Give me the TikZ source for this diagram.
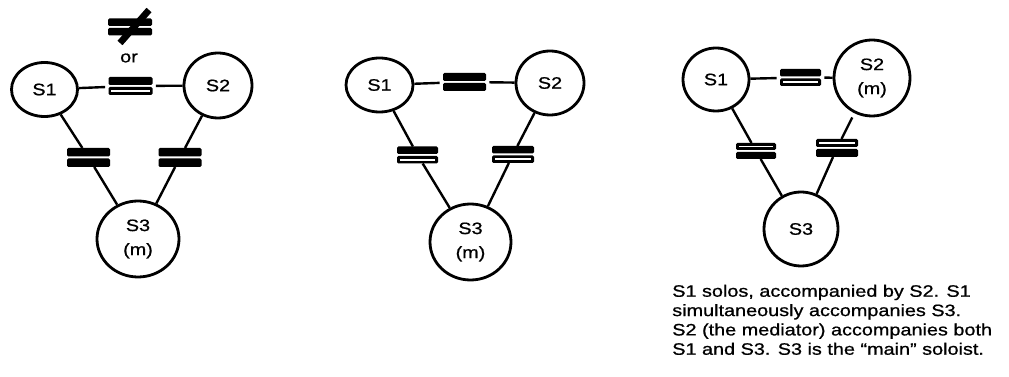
\documentclass[tikz,border=0pt]{standalone}
\usepackage{fontspec}
\setmainfont{Liberation Sans}[FakeStretch=1.2, FakeBold=0.8]
\usetikzlibrary{shapes.geometric}

% two stacked bars drawn inside a bar slot node: #1 node, #2 upper kind, #3 lower kind
\newcommand\barpair[3]{%
  \coordinate (#1-ul) at (#1.north west);
  \coordinate (#1-ur) at ([yshift=0.75pt]#1.east);
  \coordinate (#1-ll) at ([yshift=-0.75pt]#1.west);
  \coordinate (#1-lr) at (#1.south east);
  \csname bar#2\endcsname{#1-ul}{#1-ur}%
  \csname bar#3\endcsname{#1-ll}{#1-lr}}
\newcommand\barsolid[2]{\fill[ink] (#1) rectangle (#2);}
\newcommand\barhollow[2]{\fill[ink] (#1) rectangle (#2);
  \fill[white] ([shift={(2.6,2.6)}]#1) rectangle ([shift={(-2.6,-2.6)}]#2);}

\begin{document}
\begin{tikzpicture}[x=0.75pt,y=-0.75pt,
  txt/.style={font=\fontsize{12.4}{14.5}\selectfont},
  wh/.style 2 args={minimum width=#1*0.75pt, minimum height=#2*0.75pt},
  soloist/.style={draw, ellipse, line width=2.1pt, inner sep=0pt, align=center, txt},
  link/.style={line width=1.8pt},
  barslot/.style={rectangle, inner sep=0pt, outer sep=0pt},
  ink/.style={fill=black, rounded corners=1pt},
  caption/.style={txt, align=left, anchor=north west, inner sep=0pt}
]
\useasboundingbox (0,0) rectangle (1009,377);

% ---------- first triad: S3 is the main soloist ----------
\node[soloist, wh={66}{54}] (a1) at (44.5,89.5) {S1};
\node[soloist, wh={68}{65}] (b1) at (218,85.5) {S2};
\node[soloist, wh={82}{76}] (c1) at (138,239) {S3\\[3.5pt](m)};

\node[barslot, wh={44}{18}] (ab1) at (130.5,86) {};
\node[barslot, wh={43}{19}] (ac1) at (88.5,157.5) {};
\node[barslot, wh={43}{19}] (bc1) at (180,157.5) {};

\draw[link, shorten >=2.5pt] (a1) -- (ab1);
\draw[link, shorten <=2.5pt] (ab1) -- (b1);
\draw[link] (a1) -- (ac1) -- (c1);
\draw[link] (b1) -- (bc1) -- (c1);

\barpair{ab1}{solid}{hollow}
\barpair{ac1}{solid}{solid}
\barpair{bc1}{solid}{solid}

% alternative relation shown above the S1--S2 link
\node[barslot, wh={44}{17}] (ne) at (130,27) {};
\barpair{ne}{solid}{solid}
\draw[line width=5pt] ([shift={(19,-17)}]ne.center) -- ([shift={(-10,16)}]ne.center);
\node[txt, inner sep=0pt] (or) at (129,58) {or};

% ---------- second triad ----------
\node[soloist, wh={67}{54}] (a2) at (379.5,85) {S1};
\node[soloist, wh={68}{64}] (b2) at (550,83) {S2};
\node[soloist, wh={81}{76}] (c2) at (470.5,242) {S3\\[3.5pt](m)};

\node[barslot, wh={43}{18}] (ab2) at (464.5,82) {};
\node[barslot, wh={41}{17}] (ac2) at (417.5,155) {};
\node[barslot, wh={42}{17}] (bc2) at (513,154.5) {};

\draw[link, shorten >=2.5pt] (a2) -- (ab2);
\draw[link, shorten <=2.5pt] (ab2) -- (b2);
\draw[link] (a2) -- (ac2) -- (c2);
\draw[link] (b2) -- (bc2) -- (c2);

\barpair{ab2}{solid}{solid}
\barpair{ac2}{solid}{hollow}
\barpair{bc2}{solid}{hollow}

% ---------- third triad: S2 mediates ----------
\node[soloist, wh={66}{63}] (a3) at (716,79.5) {S1};
\node[soloist, wh={76}{76}] (b3) at (872,78) {S2\\[3.5pt](m)};
\node[soloist, wh={74}{74}] (c3) at (801,229) {S3};

\node[barslot, wh={41}{17}] (ab3) at (800.5,77.5) {};
\node[barslot, wh={40}{16}] (ac3) at (756,151) {};
\node[barslot, wh={42}{18}] (bc3) at (837,148) {};

\draw[link, shorten >=2.5pt] (a3) -- (ab3);
\draw[link, shorten <=2.5pt] (ab3) -- (b3);
\draw[link] (a3) -- (ac3) -- (c3);
\draw[link, shorten <=3.5pt] (b3) -- (bc3);
\draw[link] (bc3) -- (c3);

\barpair{ab3}{solid}{hollow}
\barpair{ac3}{hollow}{solid}
\barpair{bc3}{hollow}{solid}

\node[caption] (note) at (672,284.5) {S1 solos, accompanied by S2. S1\\
simultaneously accompanies S3.\\
S2 (the mediator) accompanies both\\
S1 and S3. S3 is the \textquotedblleft main\textquotedblright\ soloist.};
\end{tikzpicture}
\end{document}
